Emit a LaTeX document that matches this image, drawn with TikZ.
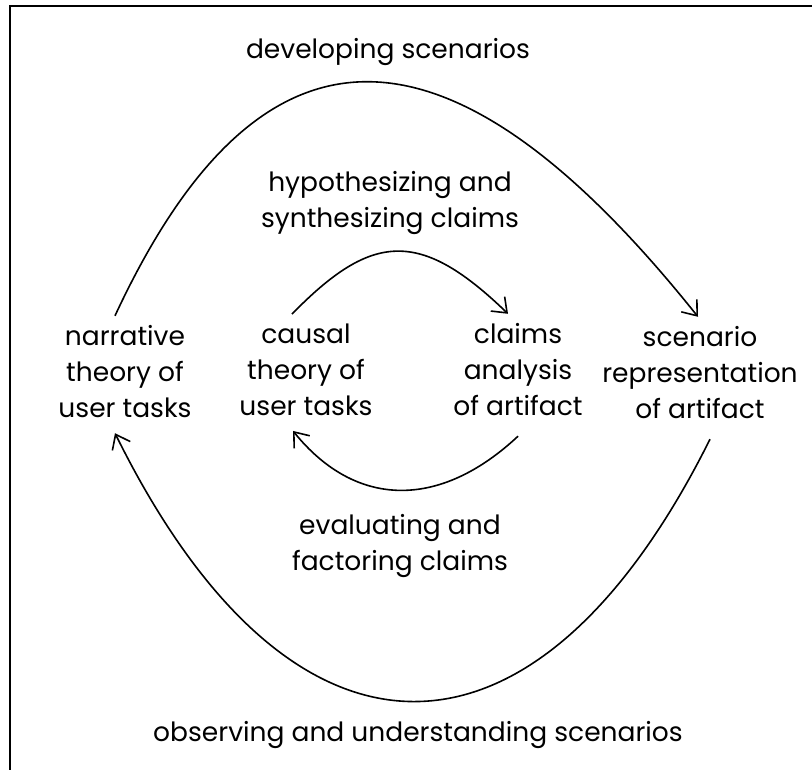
\documentclass[tikz,border=0pt]{standalone}
\usepackage{fontspec}
\setmainfont{Poppins}
\usetikzlibrary{arrows.meta}
\begin{document}
\begin{tikzpicture}[x=1pt,y=-1pt,
        every node/.style={font=\fontsize{26.5}{36}\selectfont, align=center, inner sep=0pt, outer sep=10pt},
        curve/.style={line width=1.6pt, -{Straight Barb[length=13pt,width=20pt,line width=1.6pt]}}]
        \useasboundingbox (0,0) rectangle (812,770);
        \draw[line width=1.8pt] (812,6) -- (10,6) -- (10,770);

        \node (1) at (125,372) {narrative\\theory of\\user tasks};
        \node (2) at (306,370) {causal\\theory of\\user tasks};
        \node (3) at (518,370) {claims\\analysis\\of artifact};
        \node (4) at (700,373) {scenario\\representation\\of artifact};

        \node (5) at (388,52) {developing scenarios};
        \node (6) at (390,203) {hypothesizing and\\synthesizing claims};
        \node (7) at (400,546) {evaluating and\\factoring claims};
        \node (8) at (418,735) {observing and understanding scenarios};

        \draw[curve] ([xshift=-10pt]1.north) .. controls +(145,-312) and +(-250,-313) .. ([xshift=-2pt]4.north);
        \draw[curve] ([xshift=-14pt]2.north) .. controls +(80,-82) and +(-88,-85) .. ([xshift=-10pt]3.north);
        \draw[curve] ([shift={(0,10)}]3.south) .. controls +(-78,73) and +(63,78) .. ([shift={(-13,5)}]2.south);
        \draw[curve] ([shift={(10,10)}]4.south) .. controls +(-175,351) and +(176,356) .. ([shift={(-10,5)}]1.south);
      \end{tikzpicture}
\end{document}
